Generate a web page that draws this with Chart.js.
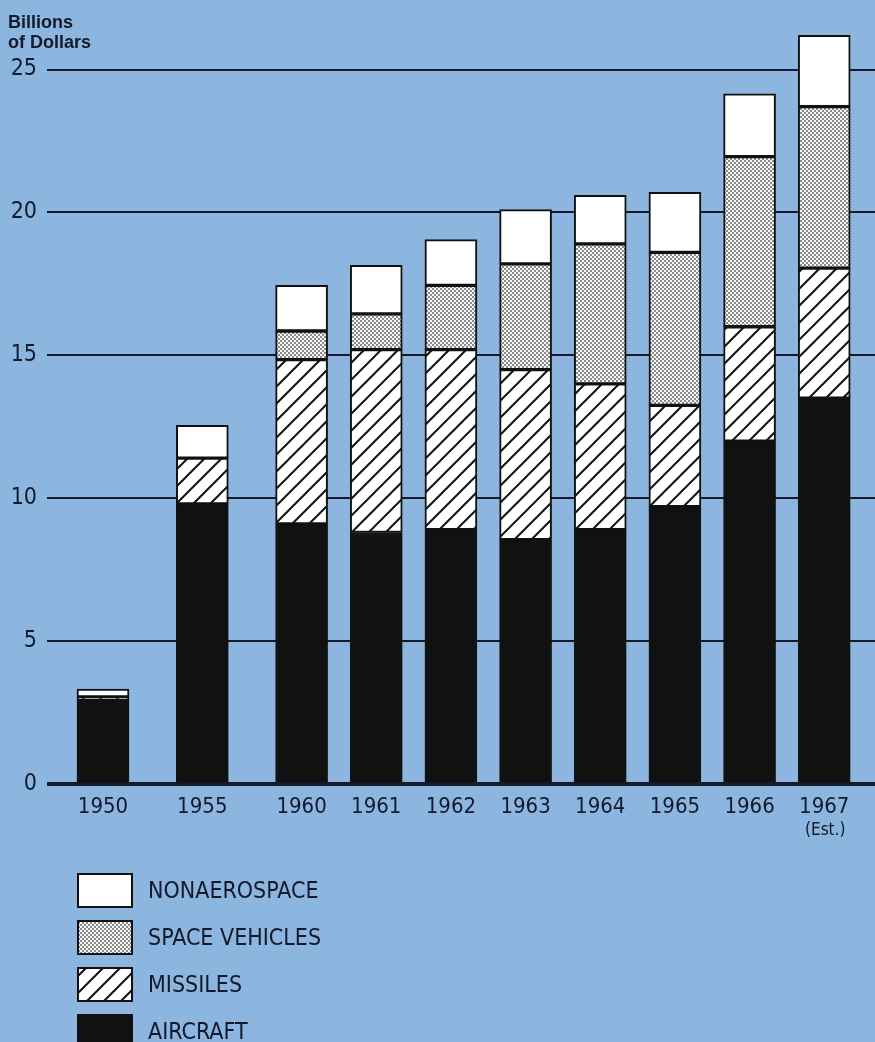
<!DOCTYPE html>
<html>
<head>
<meta charset="utf-8">
<script src="https://cdn.jsdelivr.net/npm/chart.js@4.4.1/dist/chart.umd.min.js"></script>
<style>
  html, body { margin: 0; padding: 0; background: #8cb6df; }
  #wrap { position: relative; width: 875px; height: 1042px; }
</style>
</head>
<body>
<div id="wrap"><canvas id="chart"></canvas></div>
<script>
// Aerospace sales, billions of dollars
const years = ['1950', '1955', '1960', '1961', '1962', '1963', '1964', '1965', '1966', '1967']
const yearNotes = ['', '', '', '', '', '', '', '', '', '(Est.)']
const aircraft = [2.95, 9.8, 9.1, 8.8, 8.9, 8.55, 8.9, 9.7, 12.0, 13.5]
const missiles = [0.1, 1.6, 5.75, 6.4, 6.3, 5.95, 5.1, 3.55, 4.0, 4.55]
const spaceVehicles = [0, 0, 1.0, 1.25, 2.25, 3.7, 4.9, 5.35, 5.95, 5.65]
const nonaerospace = [0.27, 1.15, 1.6, 1.7, 1.6, 1.9, 1.7, 2.1, 2.2, 2.5]
const yTicks = [0, 5, 10, 15, 20, 25]

const INK = '#141a2b'
const NARROW = '"DejaVu Sans Condensed", "Liberation Sans Narrow", sans-serif'
const SANS = '"Liberation Sans", Arial, sans-serif'

// bars sit one slot apart, with a bit of extra room where years are skipped
const GAP = 0.33
const xPos = []
years.forEach((y, i) => {
  if (i === 0) { xPos.push(0); return }
  const skipped = Number(y) - Number(years[i - 1]) > 1
  xPos.push(xPos[i - 1] + 1 + (skipped ? GAP : 0))
})

function points(values) {
  return values.map((v, i) => ({ x: xPos[i], y: v === 0 ? null : v }))
}

// fine grey screen for space vehicles
function dotPattern() {
  const c = document.createElement('canvas')
  c.width = 4; c.height = 4
  const g = c.getContext('2d')
  g.fillStyle = '#f6f6f6'
  g.fillRect(0, 0, 4, 4)
  g.fillStyle = '#8c8c8c'
  g.fillRect(0, 0, 2, 2)
  g.fillRect(2, 2, 2, 2)
  return g.createPattern(c, 'repeat')
}

// diagonal hatching for missiles
function hatchPattern() {
  const s = 17
  const c = document.createElement('canvas')
  c.width = s; c.height = s
  const g = c.getContext('2d')
  g.fillStyle = '#ffffff'
  g.fillRect(0, 0, s, s)
  g.strokeStyle = '#111111'
  g.lineWidth = 2
  g.beginPath()
  g.moveTo(-2, s + 2); g.lineTo(s + 2, -2)
  g.moveTo(-2, 2); g.lineTo(2, -2)
  g.moveTo(s - 2, s + 2); g.lineTo(s + 2, s - 2)
  g.stroke()
  return g.createPattern(c, 'repeat')
}

const barStyle = {
  borderColor: '#111111',
  borderWidth: 2,
  borderSkipped: false,
  barThickness: 52
}

// y-axis caption, the "(Est.)" note and the legend block
const extras = {
  id: 'extras',
  afterDraw(chart) {
    const ctx = chart.ctx
    ctx.save()
    ctx.fillStyle = INK
    ctx.font = 'bold 18px ' + SANS
    ctx.textAlign = 'left'
    ctx.textBaseline = 'alphabetic'
    ctx.fillText('Billions', 8, 28)
    ctx.fillText('of Dollars', 8, 48)

    const xs = chart.scales.x
    ctx.font = '17px ' + NARROW
    ctx.textAlign = 'center'
    ctx.textBaseline = 'middle'
    yearNotes.forEach((n, i) => {
      if (n) ctx.fillText(n, xs.getPixelForValue(xPos[i]) + 1, 831)
    })

    const sets = chart.data.datasets.slice().reverse()
    sets.forEach((ds, i) => {
      const top = 874 + i * 47
      ctx.fillStyle = ds.backgroundColor
      ctx.fillRect(78, top, 54, 33)
      ctx.strokeStyle = '#111111'
      ctx.lineWidth = 2
      ctx.strokeRect(78, top, 54, 33)
      ctx.fillStyle = INK
      ctx.font = '23px ' + NARROW
      ctx.textAlign = 'left'
      ctx.fillText(ds.label, 148, top + 18)
    })
    ctx.restore()
  }
}

new Chart(document.getElementById('chart'), {
  type: 'bar',
  data: {
    datasets: [
      { label: 'AIRCRAFT', data: points(aircraft), backgroundColor: '#111111', ...barStyle },
      { label: 'MISSILES', data: points(missiles), backgroundColor: hatchPattern(), ...barStyle },
      { label: 'SPACE VEHICLES', data: points(spaceVehicles), backgroundColor: dotPattern(), ...barStyle },
      { label: 'NONAEROSPACE', data: points(nonaerospace), backgroundColor: '#ffffff', ...barStyle }
    ]
  },
  options: {
    responsive: true,
    maintainAspectRatio: false,
    animation: false,
    layout: { padding: { top: 22, left: 0, right: 0, bottom: 0 } },
    plugins: {
      legend: { display: false },
      tooltip: { enabled: false }
    },
    scales: {
      x: {
        type: 'linear',
        offset: false,
        stacked: true,
        min: -0.75,
        max: xPos[xPos.length - 1] + 0.68,
        grid: { display: false },
        border: { display: false },
        afterBuildTicks: (s) => { s.ticks = xPos.map(v => ({ value: v })) },
        afterFit: (s) => { s.height = 1042 - 784 },
        ticks: {
          autoSkip: false,
          maxRotation: 0,
          padding: 2,
          color: INK,
          font: { family: NARROW, size: 22 },
          callback: (v, i) => years[i]
        }
      },
      y: {
        stacked: true,
        min: 0,
        max: 26.6,
        afterBuildTicks: (s) => { s.ticks = yTicks.map(v => ({ value: v })) },
        afterFit: (s) => { s.width = 47 },
        border: { display: false },
        grid: {
          color: INK,
          drawTicks: false,
          lineWidth: (c) => (c.tick && c.tick.value === 0 ? 4 : 2)
        },
        ticks: {
          padding: 10,
          color: INK,
          font: { family: NARROW, size: 23 }
        }
      }
    }
  },
  plugins: [extras]
})
</script>
</body>
</html>
